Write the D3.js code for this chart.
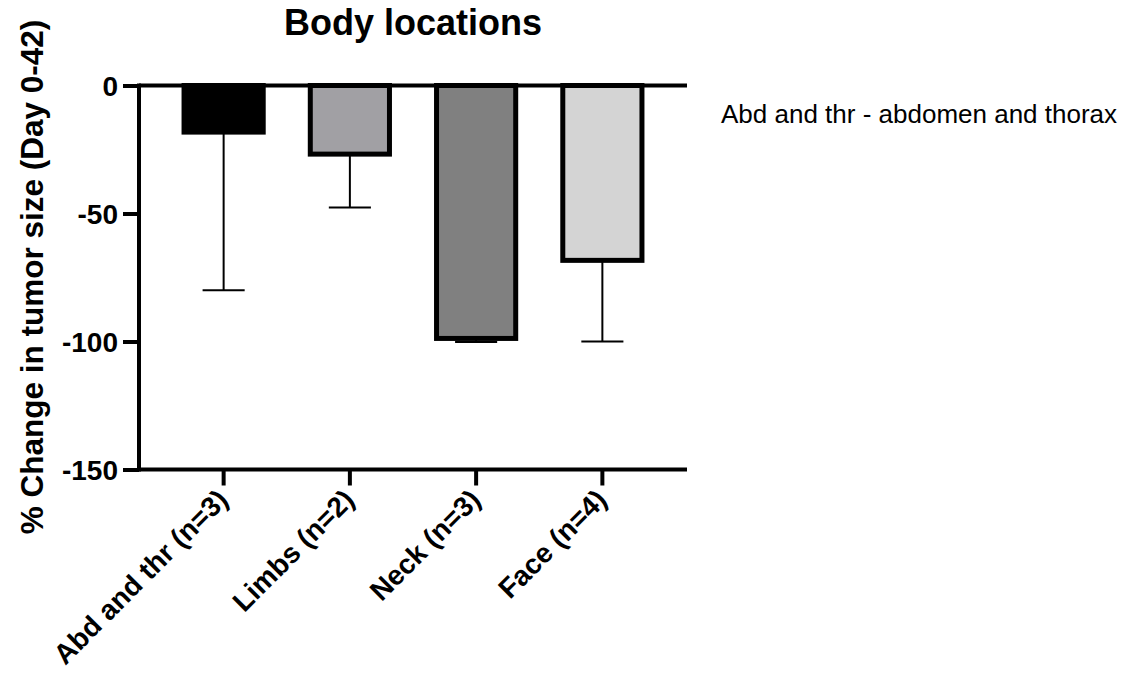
<!DOCTYPE html>
<html>
<head>
<meta charset="utf-8">
<script src="https://cdn.jsdelivr.net/npm/d3@7"></script>
<style>
  html, body { margin: 0; padding: 0; background: #fff; }
  svg { display: block; font-family: "Liberation Sans", Arial, sans-serif; }
</style>
</head>
<body>
<svg id="chart" width="1127" height="685"></svg>
<script>
// ---- data ----
const categories = ["Abd and thr (n=3)", "Limbs (n=2)", "Neck (n=3)", "Face (n=4)"];
const means = [-18.4, -27, -99, -68.5];
const errors = [61.6, 20.7, 1.2, 31.5];
const fills = ["#000000", "#a1a0a4", "#808080", "#d4d4d4"];
const yTicks = [0, -50, -100, -150];
const title = "Body locations";
const yLabel = "% Change in tumor size (Day 0-42)";
const note = "Abd and thr - abdomen and thorax";

// ---- layout ----
const svg = d3.select("#chart");
const x0 = 139, x1 = 687, yTop = 85.5, yBot = 469.5;
const y = d3.scaleLinear().domain([-150, 0]).range([yBot, yTop]);
const x = d3.scaleBand().domain(categories).range([x0, x1])
  .paddingInner(0.3333).paddingOuter(0.337);
const bw = x.bandwidth();
const sw = 5;

const data = categories.map((c, i) => ({c, m: means[i], e: errors[i], f: fills[i]}));

// error bars (drawn first so bars sit on top)
const eg = svg.append("g").attr("stroke", "#000").attr("stroke-width", 2);
data.forEach(d => {
  const cx = x(d.c) + bw / 2;
  eg.append("line").attr("x1", cx).attr("x2", cx)
    .attr("y1", y(d.m)).attr("y2", y(d.m - d.e));
  eg.append("line").attr("x1", cx - bw / 4).attr("x2", cx + bw / 4)
    .attr("y1", y(d.m - d.e)).attr("y2", y(d.m - d.e));
});

svg.append("g").selectAll("rect").data(data).join("rect")
  .attr("x", d => x(d.c) + sw / 2)
  .attr("width", bw - sw)
  .attr("y", y(0))
  .attr("height", d => y(d.m) - y(0) - sw / 2 + 2)
  .attr("fill", d => d.f)
  .attr("stroke", "#000")
  .attr("stroke-width", sw);

// y axis
const yAxis = d3.axisLeft(y).tickValues(yTicks).tickSize(16)
  .tickFormat(d => String(d));
const yg = svg.append("g").attr("transform", `translate(${x0},0)`).call(yAxis);
yg.select(".domain").remove();
yg.selectAll(".tick line").attr("stroke", "#000").attr("stroke-width", 4);
yg.selectAll(".tick text").attr("font-size", 28).attr("font-weight", "bold")
  .attr("fill", "#000").attr("dy", "0.35em").attr("x", -21);
svg.append("line").attr("x1", x0).attr("x2", x0).attr("y1", yTop - 2).attr("y2", yBot + 2)
  .attr("stroke", "#000").attr("stroke-width", 4);

// zero baseline and bottom x axis line
svg.append("line").attr("x1", x0).attr("x2", x1).attr("y1", y(0)).attr("y2", y(0))
  .attr("stroke", "#000").attr("stroke-width", 4);
const xAxis = d3.axisBottom(x).tickSize(16).tickFormat("");
const xg = svg.append("g").attr("transform", `translate(0,${yBot})`).call(xAxis);
xg.select(".domain").attr("d", `M${x0},0H${x1}`).attr("stroke", "#000").attr("stroke-width", 4);
xg.selectAll(".tick line").attr("stroke", "#000").attr("stroke-width", 4);

// x labels rotated
svg.append("g").selectAll("text").data(categories).join("text")
  .attr("transform", d => `translate(${x(d) + bw / 2 + 6},${yBot + 32}) rotate(-45)`)
  .attr("text-anchor", "end")
  .attr("font-size", 28).attr("font-weight", "bold").attr("fill", "#000")
  .text(d => d);

// title
svg.append("text").attr("x", 413).attr("y", 35).attr("text-anchor", "middle")
  .attr("font-size", 36).attr("font-weight", "bold").attr("fill", "#000").text(title);

// y label
svg.append("text").attr("transform", "translate(43,277) rotate(-90)")
  .attr("text-anchor", "middle").attr("font-size", 31.5).attr("font-weight", "bold")
  .attr("fill", "#000").text(yLabel);

// note
svg.append("text").attr("x", 721).attr("y", 123).attr("font-size", 26)
  .attr("fill", "#000").text(note);
</script>
</body>
</html>
